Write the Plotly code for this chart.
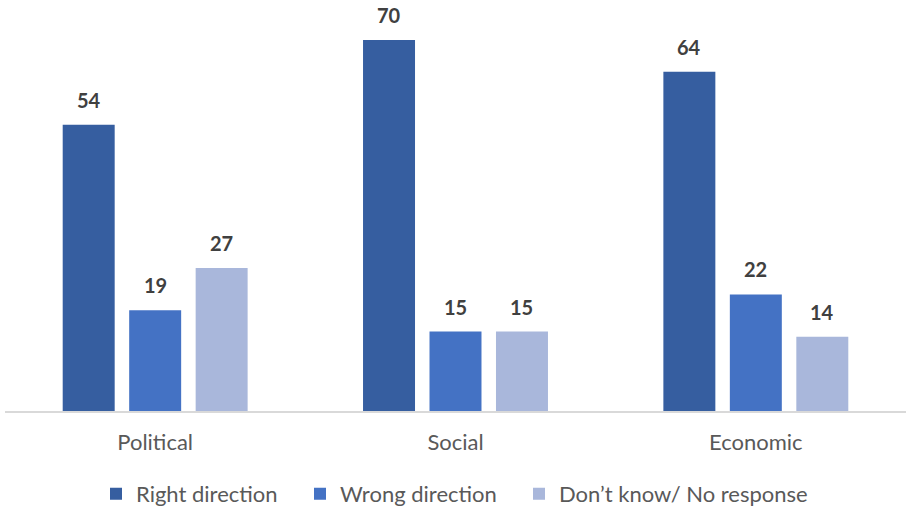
import plotly.graph_objects as go

categories = ["Political", "Social", "Economic"]
series_names = ["Right direction", "Wrong direction", "Don\u2019t know/ No response"]
right_direction = [54, 70, 64]
wrong_direction = [19, 15, 22]
dont_know = [27, 15, 14]
colors = ["#365EA0", "#4472C4", "#A9B7DB"]

series_values = [right_direction, wrong_direction, dont_know]

BARGAP = 0.336
GROUPGAP = 0.218
slot = (1 - BARGAP) / 3
FONT = "Lato, Open Sans, sans-serif"

# left edge (px in the 909-wide page) of each legend entry
legend_left_px = [96, 300, 519]
legend_ids = ["legend", "legend2", "legend3"]

fig = go.Figure()
for name, vals, col, lid in zip(series_names, series_values, colors, legend_ids):
    fig.add_trace(go.Bar(
        x=categories, y=vals, name=name, legend=lid,
        marker=dict(color=col, line=dict(width=0)),
        hoverinfo="x+y+name",
    ))

annotations = []
for si, vals in enumerate(series_values):
    off = (si - 1) * slot
    for ci, v in enumerate(vals):
        annotations.append(dict(
            x=ci + off, y=v, xref="x", yref="y",
            text=f"<b>{v}</b>", showarrow=False,
            yanchor="bottom", yshift=11,
            font=dict(family=FONT, size=20, color="#404040"),
        ))

legend_common = dict(
    orientation="h", xref="container", xanchor="left",
    yref="container", y=0.024, yanchor="middle",
    font=dict(family=FONT, size=22, color="#595959"),
    itemwidth=30, tracegroupgap=0, bgcolor="rgba(0,0,0,0)",
)
legend_layout = {}
for lid, px in zip(legend_ids, legend_left_px):
    legend_layout[lid] = dict(legend_common, x=px / 909)

fig.update_layout(
    width=909, height=506,
    margin=dict(l=5, r=3, t=0, b=95, autoexpand=False),
    paper_bgcolor="white", plot_bgcolor="white",
    barmode="group", bargap=BARGAP, bargroupgap=GROUPGAP,
    showlegend=True,
    annotations=annotations,
    font=dict(family=FONT),
    **legend_layout,
)
fig.update_xaxes(
    type="category", showgrid=False, zeroline=False, automargin=False,
    showline=True, linecolor="#D9D9D9", linewidth=2,
    ticks="", ticklabelstandoff=11,
    tickfont=dict(family=FONT, size=22, color="#595959"),
)
fig.update_yaxes(range=[0, 77.55], visible=False, showgrid=False, zeroline=False, automargin=False)

fig.write_html(
    "out.html",
    config={"displayModeBar": False},
    post_script="document.body.style.margin='0';document.body.style.overflow='hidden';",
)
